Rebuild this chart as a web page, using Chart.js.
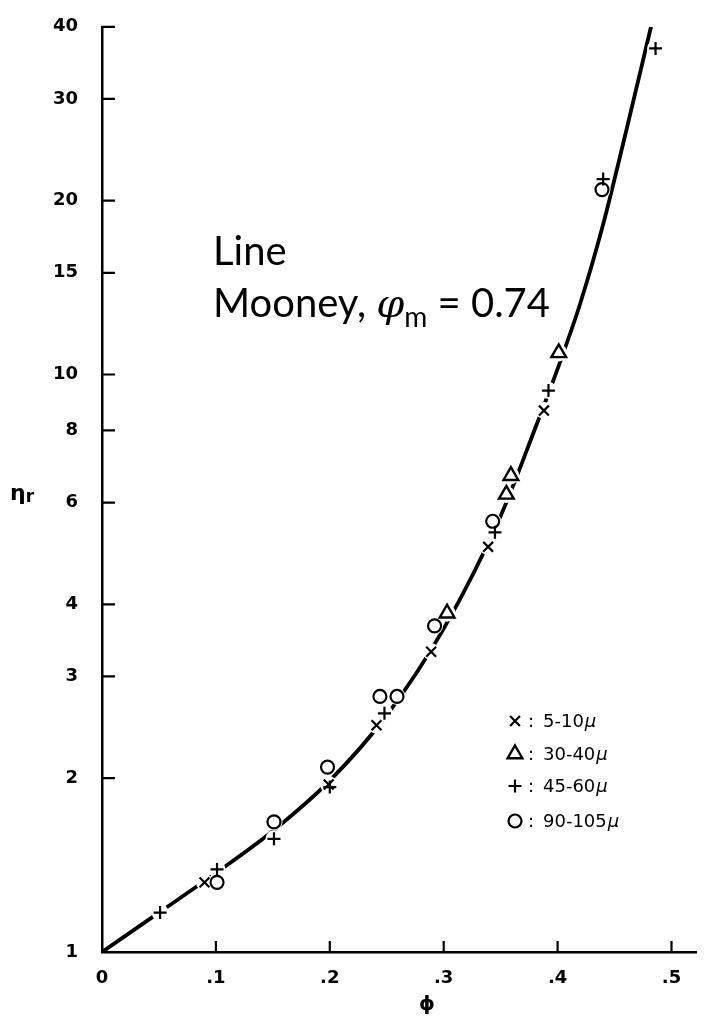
<!DOCTYPE html>
<html>
<head>
<meta charset="utf-8">
<script src="https://cdn.jsdelivr.net/npm/chart.js"></script>
<style>
  html, body { margin: 0; padding: 0; background: #fff; }
  canvas { display: block; }
</style>
</head>
<body>
<canvas id="mooney" width="707" height="1017"></canvas>
<script>
// relative viscosity against volume fraction, log scale
const curvePhi = [0, 0.05, 0.10, 0.15, 0.20, 0.25, 0.30, 0.35, 0.38, 0.40, 0.42, 0.44, 0.46, 0.482];
const curveEta = [1, 1.17, 1.37, 1.62, 1.98, 2.57, 3.63, 5.69, 8.04, 10.23, 13.3, 18.2, 26.3, 40];

const xPhi = [0.090, 0.199, 0.241, 0.289, 0.339, 0.388];
const xEta = [1.32, 1.95, 2.47, 3.31, 5.03, 8.66];
const triPhi = [0.303, 0.355, 0.359, 0.401];
const triEta = [3.86, 6.2, 6.68, 10.9];
const plusPhi = [0.051, 0.101, 0.151, 0.200, 0.248, 0.345, 0.392, 0.440, 0.486];
const plusEta = [1.17, 1.39, 1.57, 1.93, 2.59, 5.33, 9.38, 21.8, 36.7];
const circPhi = [0.101, 0.151, 0.198, 0.244, 0.259, 0.292, 0.343, 0.439];
const circEta = [1.32, 1.68, 2.09, 2.77, 2.77, 3.67, 5.57, 20.9];

const sizeLabels = ['5-10', '30-40', '45-60', '90-105'];
const xTicks = [0, 0.1, 0.2, 0.3, 0.4, 0.5];
const yTicks = [1, 2, 3, 4, 6, 8, 10, 15, 20, 30, 40];

const pts = (xs, ys) => xs.map((v, i) => ({x: v, y: ys[i]}));

const markerSets = [
  {label: sizeLabels[0], data: pts(xPhi, xEta), pointStyle: 'crossRot', pointRadius: 7, pointBorderWidth: 2.2},
  {label: sizeLabels[1], data: pts(triPhi, triEta), pointStyle: 'triangle', pointRadius: 8.5, pointBorderWidth: 2.4},
  {label: sizeLabels[2], data: pts(plusPhi, plusEta), pointStyle: 'cross', pointRadius: 6.5, pointBorderWidth: 2.2},
  {label: sizeLabels[3], data: pts(circPhi, circEta), pointStyle: 'circle', pointRadius: 6.5, pointBorderWidth: 2.2}
].map(d => Object.assign(d, {
  showLine: false,
  pointBackgroundColor: '#fff',
  pointBorderColor: '#000',
  order: 1,
  clip: false
}));

// white discs under the symbols break the curve around them
const halo = {
  label: 'halo',
  data: markerSets.flatMap(d => d.data),
  showLine: false,
  pointStyle: 'circle',
  pointRadius: 8.5,
  pointBorderWidth: 0,
  pointBackgroundColor: '#fff',
  order: 3,
  clip: false
};

const curve = {
  label: 'Mooney',
  data: pts(curvePhi, curveEta),
  showLine: true,
  borderColor: '#000',
  borderWidth: 3.8,
  pointRadius: 0,
  cubicInterpolationMode: 'monotone',
  order: 4
};

const decorations = {
  id: 'decorations',
  afterDraw(chart) {
    const {ctx, chartArea, scales: {x, y}} = chart;
    ctx.save();

    // tick marks point into the plot
    ctx.strokeStyle = '#000';
    ctx.lineWidth = 2.2;
    ctx.beginPath();
    y.ticks.forEach(t => {
      const py = y.getPixelForValue(t.value);
      ctx.moveTo(chartArea.left, py);
      ctx.lineTo(chartArea.left + 13, py);
    });
    x.ticks.forEach(t => {
      if (t.value === 0) return;
      const px = x.getPixelForValue(t.value);
      ctx.moveTo(px, chartArea.bottom);
      ctx.lineTo(px, chartArea.bottom - 11);
    });
    ctx.stroke();

    ctx.fillStyle = '#000';
    ctx.textAlign = 'left';
    ctx.textBaseline = 'alphabetic';

    // axis titles
    ctx.font = 'bold 22px "DejaVu Sans"';
    ctx.fillText('η', 10, 500);
    const ew = ctx.measureText('η').width;
    ctx.font = 'bold 17px "DejaVu Sans"';
    ctx.fillText('r', 10 + ew, 502);

    ctx.font = 'bold 20px "DejaVu Sans"';
    ctx.textAlign = 'center';
    ctx.fillText('ϕ', 427, 1010);
    ctx.textAlign = 'left';

    // curve annotation
    ctx.font = '40px Lato';
    ctx.fillText('Line', 213, 265);
    let cx = 213;
    const base = 317;
    ctx.fillText('Mooney, ', cx, base);
    cx += ctx.measureText('Mooney, ').width;
    ctx.font = 'italic 40px "DejaVu Serif"';
    ctx.fillText('φ', cx, base);
    cx += ctx.measureText('φ').width;
    ctx.font = '28px Lato';
    ctx.fillText('m', cx, base + 10);
    cx += ctx.measureText('m').width;
    ctx.font = '40px Lato';
    ctx.fillText(' = 0.74', cx, base);

    // key for the particle sizes
    const rows = [727, 760, 792, 827];
    markerSets.forEach((d, i) => {
      const by = rows[i];
      ctx.fillStyle = '#fff';
      ctx.strokeStyle = '#000';
      ctx.lineWidth = d.pointBorderWidth;
      Chart.helpers.drawPoint(ctx, {
        pointStyle: d.pointStyle,
        radius: d.pointRadius,
        borderWidth: d.pointBorderWidth,
        rotation: 0
      }, 515, by - 6);
      ctx.fillStyle = '#000';
      ctx.font = '18px "DejaVu Sans"';
      ctx.fillText(':', 528, by);
      ctx.fillText(d.label, 543, by);
      const lw = ctx.measureText(d.label).width;
      ctx.font = 'italic 18px "DejaVu Sans"';
      ctx.fillText('μ', 543 + lw + 1, by);
    });

    ctx.restore();
  }
};

new Chart(document.getElementById('mooney').getContext('2d'), {
  type: 'scatter',
  data: {datasets: [...markerSets, halo, curve]},
  options: {
    responsive: false,
    animation: false,
    events: [],
    layout: {padding: {top: 18, right: 2, left: 0, bottom: 0}},
    plugins: {legend: {display: false}, tooltip: {enabled: false}},
    scales: {
      x: {
        type: 'linear',
        position: 'bottom',
        min: 0,
        max: 0.5216,
        afterBuildTicks: s => { s.ticks = xTicks.map(v => ({value: v})); },
        afterFit: s => { s.height = 65; },
        grid: {display: false},
        border: {display: true, color: '#000', width: 2.5},
        ticks: {
          color: '#000',
          font: {family: 'DejaVu Sans', size: 18, weight: 'bold'},
          padding: 8,
          maxRotation: 0,
          autoSkip: false,
          callback: v => v === 0 ? '0' : '.' + Math.round(v * 10)
        }
      },
      y: {
        type: 'logarithmic',
        position: 'left',
        min: 1,
        max: 40,
        afterBuildTicks: s => { s.ticks = yTicks.map(v => ({value: v})); },
        afterFit: s => { s.width = 102; },
        grid: {display: false},
        border: {display: true, color: '#000', width: 2.5},
        ticks: {
          color: '#000',
          font: {family: 'DejaVu Sans', size: 18, weight: 'bold'},
          padding: 16,
          autoSkip: false,
          callback: v => String(v)
        }
      }
    }
  },
  plugins: [decorations]
});
</script>
</body>
</html>
